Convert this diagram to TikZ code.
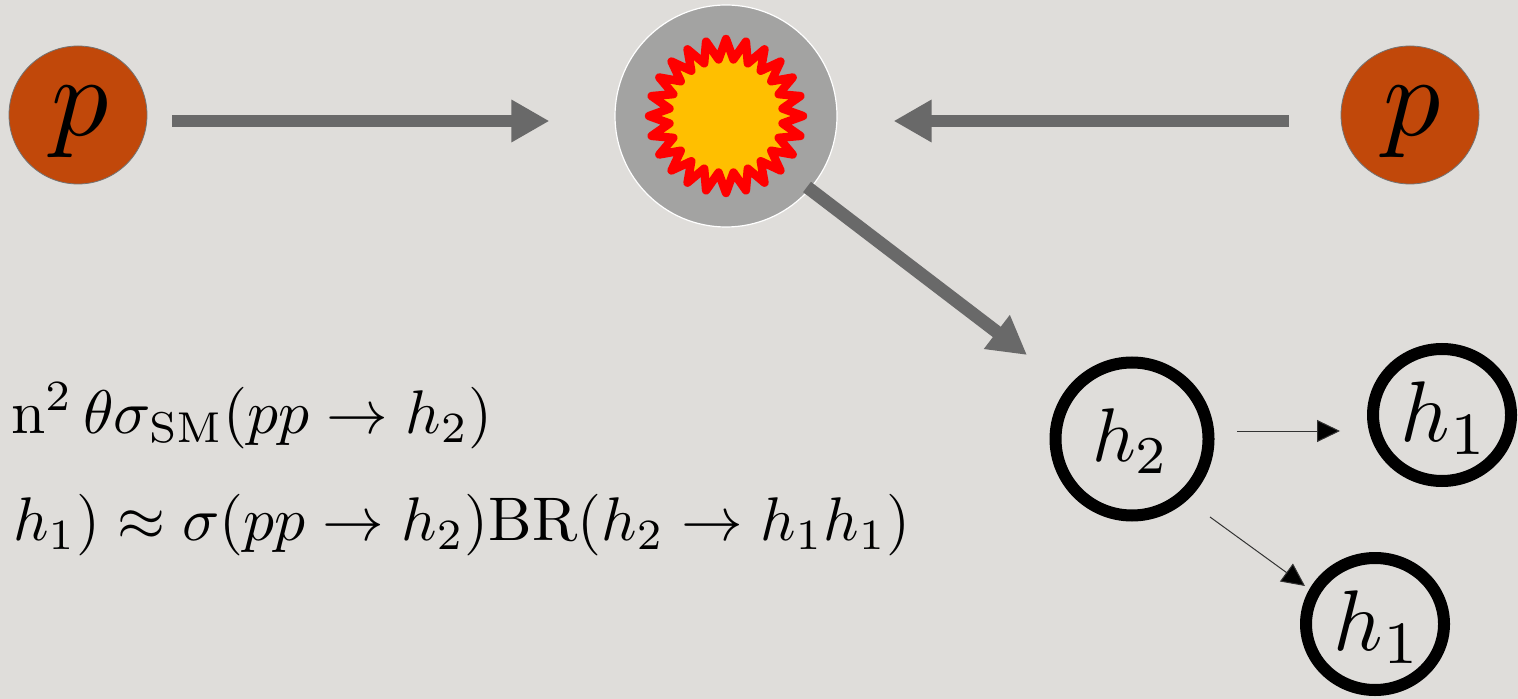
\documentclass[tikz,border=0pt]{standalone}
\usepackage{graphicx}
\usepackage{amsmath}
\usetikzlibrary{arrows.meta,shapes.geometric}
\definecolor{paper}{HTML}{DFDDDA}
\definecolor{arrowgray}{HTML}{696969}
\definecolor{blobgray}{HTML}{A3A3A2}
\definecolor{proton}{HTML}{C1480A}
\definecolor{sunfill}{HTML}{FFBF00}
\tikzset{
  protonnode/.style={circle,draw=black!55,line width=0.4pt,fill=proton,minimum size=138*0.5pt,inner sep=0pt},
  higgstwo/.style={ellipse,draw=black,line width=6pt,minimum width=153*0.5pt,minimum height=153*0.5pt,inner sep=0pt},
  higgsone/.style={ellipse,draw=black,line width=6pt,minimum width=138*0.5pt,minimum height=132*0.5pt,inner sep=0pt},
  symbol/.style={inner sep=0pt},
  bigarrow/.style={draw=arrowgray,line width=6pt,-{Triangle[length=19pt,width=20pt,fill=arrowgray]}},
  thinarrow/.style={draw=black!80,line width=0.5pt,-{Triangle[length=11.5pt,width=11pt,fill=black]}},
  eqn/.style={anchor=base east,inner sep=0pt}
}
\begin{document}
\begin{tikzpicture}[x=0.5pt,y=-0.5pt]
\useasboundingbox (0,0) rectangle (1518,699);
\fill[paper] (0,0) rectangle (1518,699);
\clip (0,0) rectangle (1518,699);
\node[circle,draw=white,line width=0.6pt,fill=blobgray,minimum size=222*0.5pt,inner sep=0pt] (blob) at (726,116) {};
\begin{scope}[shift={(blob.center)}]
\draw[draw=red,fill=sunfill,line width=4.2pt,line join=round]
  plot[samples at={0,...,47}] ({7.5*\x}:{67+10*cos(180*\x)}) -- cycle;
\end{scope}
\node[protonnode] (pL) at (78,115) {};
\node[protonnode] (pR) at (1410,115) {};
\node[symbol] (pLt) at ([shift={(2,7.5)}]pL.center) {\scalebox{5.7}{$p$}};
\node[symbol] (pRt) at ([shift={(2,7.5)}]pR.center) {\scalebox{5.7}{$p$}};
\node[higgstwo] (h2) at (1132,439) {};
\node[higgsone] (h1a) at (1442,415) {};
\node[higgsone] (h1b) at (1375,624) {};
\node[symbol] (h2t) at ([shift={(-1,2)}]h2.center) {\scalebox{3.8}{$h_2$}};
\node[symbol] (h1at) at ([shift={(3,3)}]h1a.center) {\scalebox{4.3}{$h_1$}};
\node[symbol] (h1bt) at ([shift={(3,3)}]h1b.center) {\scalebox{4.3}{$h_1$}};
\draw[bigarrow] ([shift={(25,6)}]pL.east) -- ([shift={(-65,5)}]blob.west);
\draw[bigarrow] ([shift={(-52,6)}]pR.west) -- ([shift={(56,5)}]blob.east);
\draw[bigarrow,line width=6.5pt] ([shift={(81,71)}]blob.center) -- ([shift={(-105,-84)}]h2.center);
\draw[thinarrow] ([shift={(105,-8)}]h2.center) -- ([shift={(-102,16)}]h1a.center);
\draw[thinarrow] ([shift={(78,78)}]h2.center) -- ([shift={(-70,-38)}]h1b.center);
\node[eqn] (eqa) at (493,433) {\scalebox{3.08}{$\mathrm{n}^2\,\theta\sigma_{\mathrm{SM}}(pp\to h_2)$}};
\node[eqn] (eqb) at (911,540) {\scalebox{3.08}{$h_1)\approx\sigma(pp\to h_2)\mathrm{BR}(h_2\to h_1h_1)$}};
\end{tikzpicture}
\end{document}
